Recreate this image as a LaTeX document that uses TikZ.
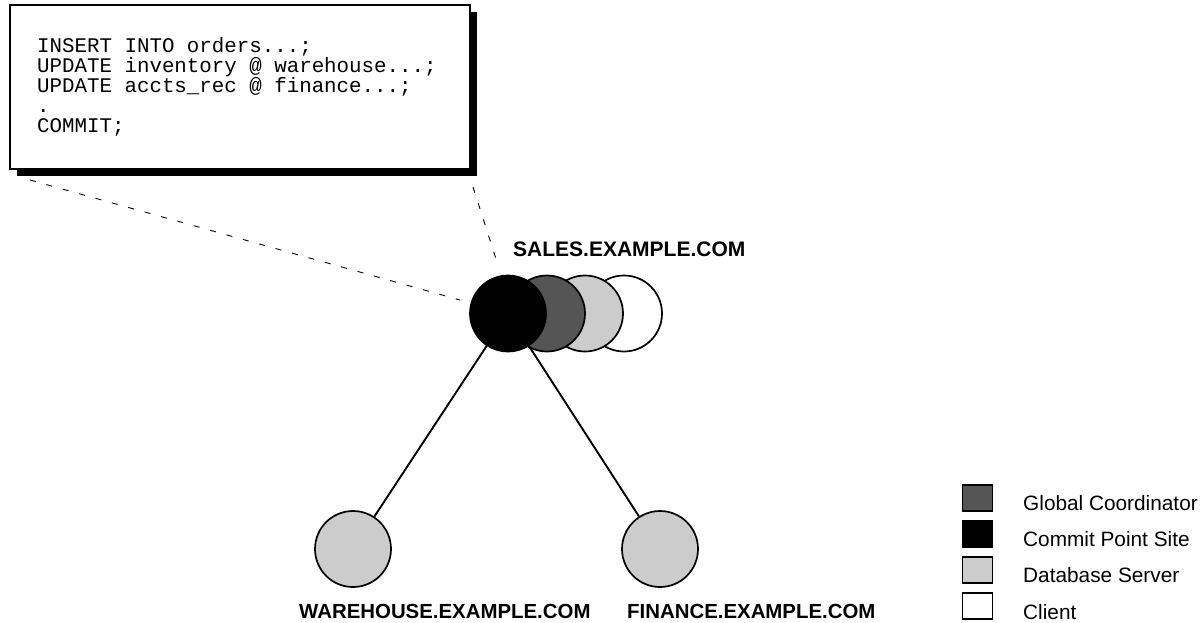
\documentclass[tikz,border=0pt]{standalone}
\usepackage{fontspec}
\setmainfont{Liberation Sans}
\newfontfamily\monof{Liberation Mono}
\usetikzlibrary{shadows}
\definecolor{darkg}{HTML}{555555}
\definecolor{lightg}{HTML}{CCCCCC}
\begin{document}
\begin{tikzpicture}[x=1pt,y=-1pt,
  codebox/.style={draw, line width=1.2pt, fill=white, rectangle, inner sep=0pt,
    minimum width=460pt, minimum height=164pt,
    drop shadow={shadow xshift=7pt, shadow yshift=-7pt, opacity=1, fill=black}},
  codeline/.style={anchor=base west, inner sep=0pt,
    font=\monof\fontsize{20.8}{22}\selectfont},
  circ/.style={circle, draw, line width=1.7pt, inner sep=0pt, minimum size=76pt},
  conn/.style={draw, line width=1.9pt},
  dashconn/.style={draw, line width=0.9pt, dash pattern=on 6pt off 11pt},
  saleslabel/.style={anchor=base west, inner sep=0pt, font=\bfseries\fontsize{21}{24}\selectfont},
  sitelabel/.style={anchor=base west, inner sep=0pt, font=\bfseries\fontsize{20.4}{24}\selectfont},
  legbox/.style={draw, line width=1.5pt, rectangle, inner sep=0pt, minimum width=30pt, minimum height=26pt},
  legtext/.style={anchor=base west, inner sep=0pt, font=\fontsize{20.8}{24}\selectfont}]
\useasboundingbox (0,0) rectangle (1204,623);

% code box
\node[codebox] (box) at (240,87) {};
\node[codeline] (c1) at (37,52.5) {INSERT INTO orders...;};
\node[codeline] (c2) at (37,72.5) {UPDATE inventory @ warehouse...;};
\node[codeline] (c3) at (37,92.5) {UPDATE accts\_rec @ finance...;};
\node[codeline] (c4) at (37,113) {.};
\node[codeline] (c5) at (37,132.5) {COMMIT;};

% dashed callout lines
\coordinate (dlA) at (30,180);
\coordinate (dlB) at (460,300);
\coordinate (drA) at (473,187);
\coordinate (drB) at (497,262);
\draw[dashconn] (dlA) -- (dlB);
\draw[dashconn] (drA) -- (drB);

% sales site circles
\node[circ, fill=white] (client) at (624,313.5) {};
\node[circ, fill=lightg] (dbs) at (585,313.5) {};
\node[circ, fill=darkg] (gc) at (547,313.5) {};
\node[circ, fill=black] (cps) at (508,313.5) {};
\node[saleslabel] (saleslbl) at (513,256) {SALES.EXAMPLE.COM};

% remote sites
\node[circ, fill=lightg] (wh) at (353,549) {};
\node[circ, fill=lightg] (fin) at (660,549) {};
\draw[conn] (cps) -- (wh);
\draw[conn] (cps) -- (fin);
\node[sitelabel] (whlbl) at (299,618) {WAREHOUSE.EXAMPLE.COM};
\node[sitelabel] (finlbl) at (627,618) {FINANCE.EXAMPLE.COM};

% legend
\node[legbox, fill=darkg] (lg1) at (977.5,498) {};
\node[legbox, fill=black] (lg2) at (977.5,534) {};
\node[legbox, fill=lightg] (lg3) at (977.5,570) {};
\node[legbox, fill=white] (lg4) at (977.5,606) {};
\node[legtext] (lt1) at (1023,510.5) {Global Coordinator};
\node[legtext] (lt2) at (1023,546.5) {Commit Point Site};
\node[legtext] (lt3) at (1023,582.5) {Database Server};
\node[legtext] (lt4) at (1023,619) {Client};
\end{tikzpicture}
\end{document}
